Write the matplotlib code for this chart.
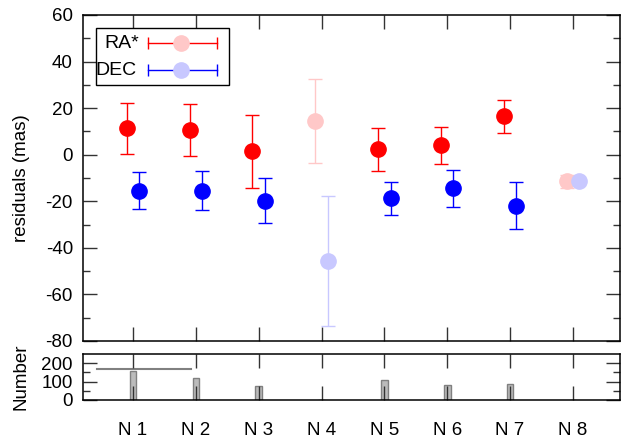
import matplotlib
matplotlib.use('Agg')
import matplotlib.pyplot as plt
from matplotlib.ticker import MultipleLocator, FixedLocator

plt.rcParams['font.family'] = ['Liberation Sans', 'DejaVu Sans']
plt.rcParams['font.size'] = 13.5
plt.rcParams['axes.unicode_minus'] = False

# ---- data ----
categories = ['N 1', 'N 2', 'N 3', 'N 4', 'N 5', 'N 6', 'N 7', 'N 8']
ra = [11.3, 10.5, 1.4, 14.3, 2.3, 4.0, 16.5, -11.5]
ra_err = [11.0, 11.2, 15.7, 18.0, 9.3, 8.0, 7.0, 2.7]
dec = [-15.4, -15.4, -19.7, -45.6, -18.8, -14.5, -21.9, -11.1]
dec_err = [8.0, 8.2, 9.7, 27.8, 7.0, 7.8, 10.0, 0.0]
faded = [False, False, False, True, False, False, False, True]
counts = [160, 118, 78, 0, 107, 80, 87, 0]
ref_level = 170
ref_span = [0.43, 1.92]

RED, PINK = '#ff0000', '#ffc8c8'
BLUE, LBLUE = '#0000ff', '#c8c8ff'
TICKC = '#333333'

fig = plt.figure(figsize=(6.21, 4.41), dpi=100)
ax = fig.add_axes([0.1332, 0.2268, 0.8652, 0.7392])
axb = fig.add_axes([0.1332, 0.0930, 0.8652, 0.1043])

x = list(range(1, len(categories) + 1))
off = 0.1

for i, xi in enumerate(x):
    c = PINK if faded[i] else RED
    ax.errorbar(xi - off, ra[i], yerr=ra_err[i], fmt='o', color=c, ecolor=c,
                markersize=11, elinewidth=1, capsize=5, capthick=1, zorder=3)
for i, xi in enumerate(x):
    c = LBLUE if faded[i] else BLUE
    ax.errorbar(xi + off, dec[i], yerr=dec_err[i], fmt='o', color=c, ecolor=c,
                markersize=11, elinewidth=1, capsize=5, capthick=1, zorder=4)

ax.set_xlim(0.2, 8.75)
ax.set_ylim(-80, 60)
ax.yaxis.set_major_locator(MultipleLocator(20))
ax.yaxis.set_minor_locator(MultipleLocator(10))
ax.xaxis.set_major_locator(FixedLocator(x))
ax.set_xticklabels([])
ax.tick_params(axis='both', which='major', direction='in', length=10, width=1,
               color=TICKC, top=True, right=True, pad=7)
ax.tick_params(axis='both', which='minor', direction='in', length=5, width=1,
               color=TICKC, top=True, right=True)
ax.tick_params(axis='x', which='minor', bottom=False, top=False)
ax.set_ylabel('residuals (mas)')
ax.yaxis.set_label_coords(-0.099, 0.5)
for s in ax.spines.values():
    s.set_linewidth(1.1)

# legend (drawn manually, gnuplot style)
lt = ax.transAxes
ax.add_patch(plt.Rectangle((0.0248, 0.785), 0.2472, 0.175, transform=lt,
                           facecolor='white', edgecolor='black', lw=1, zorder=10))
rows = [('RA*', 0.913, RED, PINK, 0.0733), ('DEC', 0.831, BLUE, LBLUE, 0.0622)]
for lab, yy, ec, mc, tx in rows:
    ax.text(tx, yy, lab, transform=lt, ha='center', va='center', zorder=11,
            fontsize=14)
    ax.plot([0.1217, 0.2498], [yy, yy], color=ec, lw=1, transform=lt, zorder=11)
    ax.plot([0.1217, 0.2498], [yy, yy], color=ec, lw=0, marker='|',
            markersize=9, markeredgewidth=1, transform=lt, zorder=11)
    ax.plot([0.183], [yy], 'o', color=mc, markersize=11, transform=lt, zorder=12)

# bottom panel
axb.bar(x, counts, width=0.106, color='#bbbbbb', edgecolor='#808080', lw=1, zorder=1)
axb.plot(ref_span, [ref_level, ref_level], color='#808080', lw=1.5, zorder=1)
axb.set_xlim(0.2, 8.75)
axb.set_ylim(0, 250)
axb.yaxis.set_major_locator(FixedLocator([0, 100, 200]))
axb.yaxis.set_minor_locator(FixedLocator([50, 150]))
axb.xaxis.set_major_locator(FixedLocator(x))
axb.set_xticklabels(categories)
axb.tick_params(axis='y', which='major', direction='in', length=10, width=1,
                color=TICKC, right=True, pad=7)
axb.tick_params(axis='y', which='minor', direction='in', length=5, width=1,
                color=TICKC, right=True)
axb.tick_params(axis='x', which='major', direction='in', length=10, width=1,
                color=TICKC, top=True, pad=16)
axb.tick_params(axis='x', which='minor', bottom=False, top=False)
axb.set_ylabel('Number')
axb.yaxis.set_label_coords(-0.099, 0.5)
for s in axb.spines.values():
    s.set_linewidth(1.1)

fig.savefig('out.png', dpi=100)
